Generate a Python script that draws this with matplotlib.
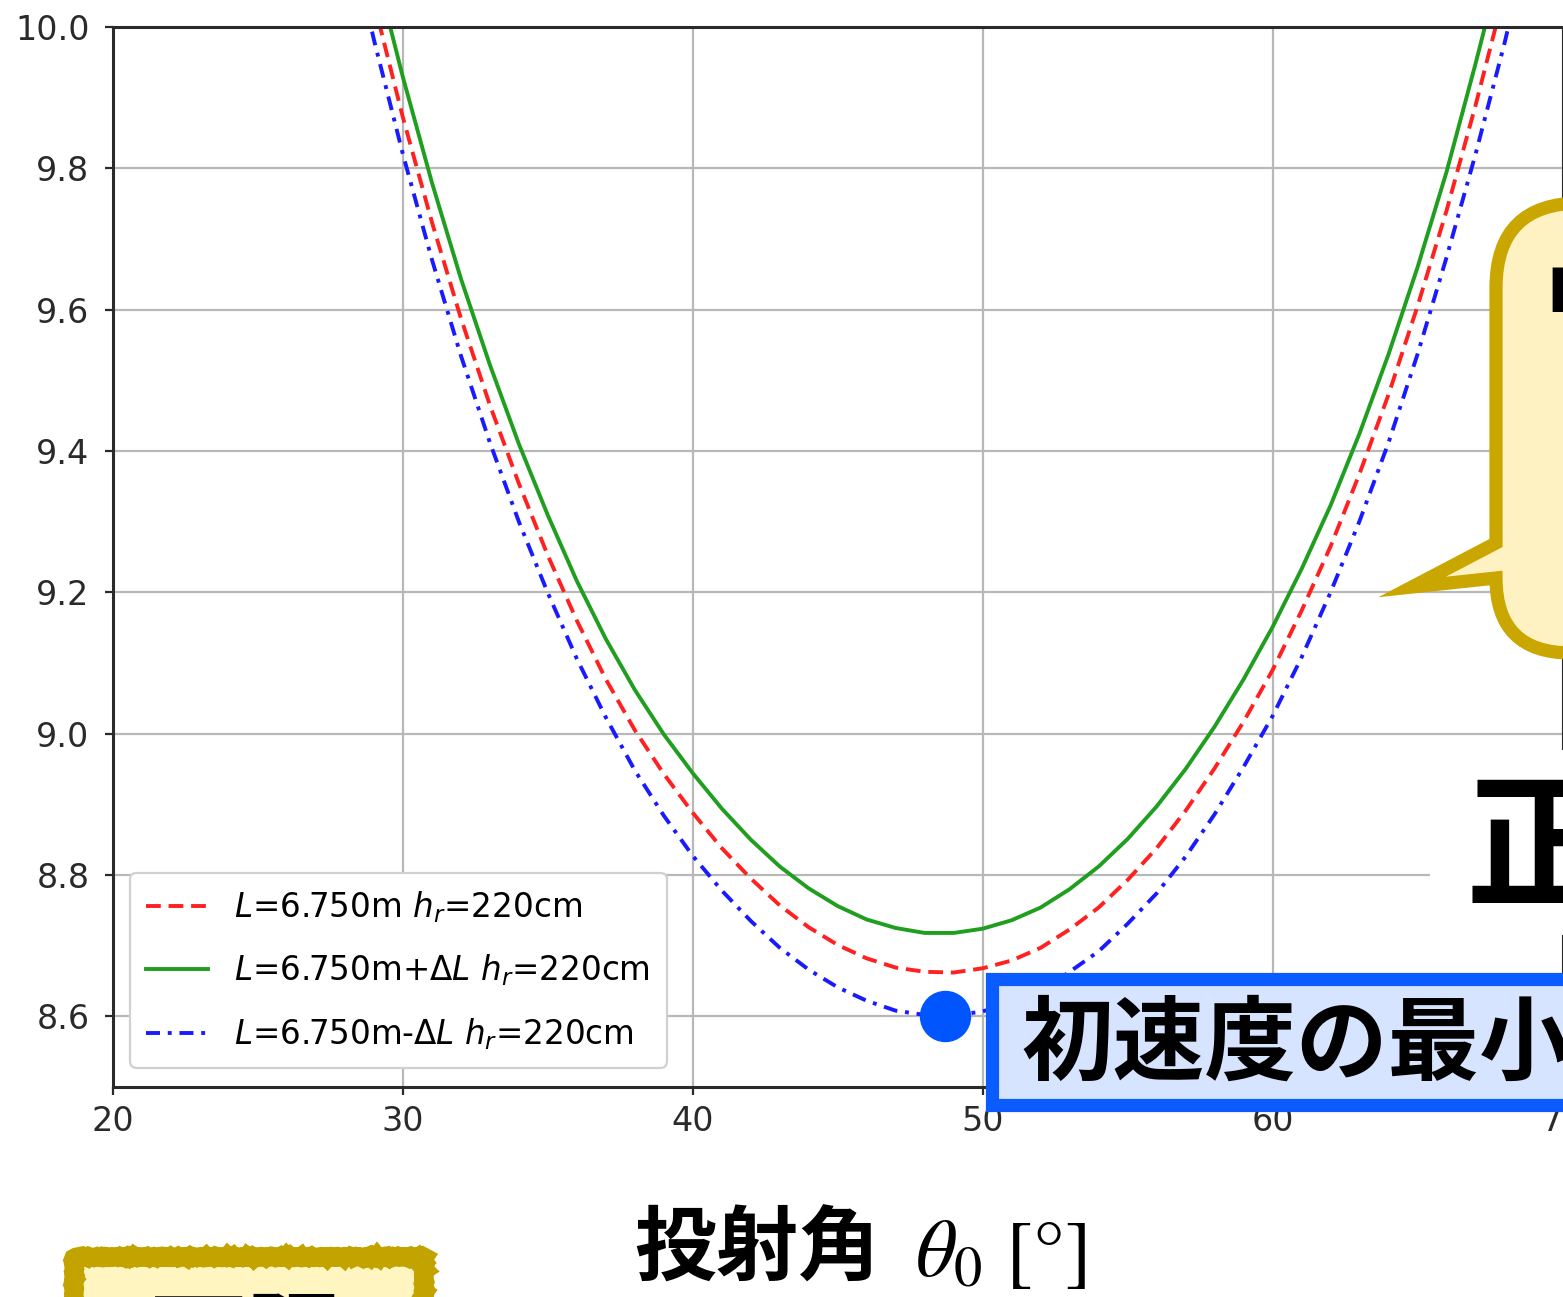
import matplotlib.pyplot as plt
from matplotlib.patches import Rectangle, PathPatch
from matplotlib.path import Path

W, H = 1563, 1297

# release angle [deg]
theta = list(range(28, 70))
# required initial speed [m/s]
v_L = [10.214, 10.035, 9.872, 9.724, 9.588, 9.465, 9.354, 9.252, 9.160, 9.077,
       9.005, 8.943, 8.888, 8.838, 8.795, 8.757, 8.726, 8.701, 8.682, 8.669,
       8.663, 8.662, 8.668, 8.679, 8.697, 8.723, 8.754, 8.793, 8.838, 8.891,
       8.951, 9.017, 9.090, 9.174, 9.265, 9.368, 9.480, 9.605, 9.740, 9.889,
       10.049, 10.230]
v_Lplus = [10.269, 10.091, 9.929, 9.780, 9.644, 9.522, 9.410, 9.309, 9.216, 9.134,
           9.062, 8.999, 8.944, 8.894, 8.850, 8.812, 8.781, 8.756, 8.737, 8.725,
           8.718, 8.718, 8.724, 8.736, 8.754, 8.780, 8.812, 8.851, 8.897, 8.950,
           9.010, 9.077, 9.151, 9.233, 9.323, 9.425, 9.537, 9.660, 9.795, 9.948,
           10.109, 10.291]
v_Lminus = [10.162, 9.982, 9.820, 9.671, 9.535, 9.412, 9.300, 9.199, 9.106, 9.023,
            8.948, 8.884, 8.827, 8.778, 8.735, 8.697, 8.666, 8.641, 8.622, 8.608,
            8.602, 8.601, 8.607, 8.619, 8.636, 8.663, 8.692, 8.731, 8.774, 8.826,
            8.886, 8.953, 9.025, 9.108, 9.200, 9.301, 9.412, 9.537, 9.674, 9.820,
            9.977, 10.151]
labels = [r'$L$=6.750m $h_r$=220cm',
          r'$L$=6.750m+$\Delta L$ $h_r$=220cm',
          r'$L$=6.750m-$\Delta L$ $h_r$=220cm']

# minimum of the L-dL curve
min_angle = 48.7
min_speed = 8.600

xticks = [20, 30, 40, 50, 60, 70]
yticks = [8.6, 8.8, 9.0, 9.2, 9.4, 9.6, 9.8, 10.0]

plt.rcParams['mathtext.fontset'] = 'dejavusans'
CJK = ['Noto Sans CJK JP', 'DejaVu Sans']


def fx(px):
    return px / W


def fy(py):
    return 1 - py / H


fig = plt.figure(figsize=(W / 100, H / 100), dpi=100)
ax = fig.add_axes([fx(113), fy(1087), (1562.5 - 113) / W, (1087 - 27) / H])

ax.plot(theta, v_L, color='#ff2020', lw=2.8, dashes=(3.8, 2.0), label=labels[0])
ax.plot(theta, v_Lplus, color='#1f9e1f', lw=2.8, label=labels[1])
ax.plot(theta, v_Lminus, color='#1a1aff', lw=2.8, dashes=(3.6, 2.0, 1.0, 2.0), label=labels[2])

ax.set_xlim(20, 70)
ax.set_ylim(8.5, 10.0)
ax.set_xticks(xticks)
ax.set_yticks(yticks)
ax.grid(True, color='#b8b8b8', lw=1.6)
for s in ax.spines.values():
    s.set_color('#2a2a2a')
    s.set_linewidth(2.2)
ax.tick_params(labelsize=24, colors='#2a2a2a', length=6, width=1.6)
ax.tick_params(axis='y', pad=11)
ax.tick_params(axis='x', pad=7)

leg = ax.legend(loc='lower left', bbox_to_anchor=(17 / 1449.5, 19 / 1060), borderaxespad=0,
                fontsize=23.5, handlelength=1.9, handletextpad=0.8, labelspacing=0.85,
                borderpad=0.5, framealpha=1.0, edgecolor='#d0d0d0')
leg.get_frame().set_linewidth(1.6)

# highlighted minimum
ax.plot([min_angle], [min_speed], 'o', color='#0055ff', ms=36, clip_on=False, zorder=10)

# label box for the minimum
fig.patches.append(Rectangle((fx(992), fy(1105)), (1700 - 992) / W, (1105 - 979) / H,
                             transform=fig.transFigure, facecolor='#d6e4ff',
                             edgecolor='#0a5cff', lw=9.5, zorder=20))
fig.text(fx(1021), fy(1073), '初速度の最小値', fontsize=66, fontweight='bold',
         family=CJK, color='black', zorder=21)

# speech bubble
x0, x1, y0, y1, r = 1496, 1700, 203, 653, 85
verts = [(x0, y0 + r), (x0, y0), (x0 + r, y0), (x1, y0), (x1, y1),
         (x0 + 75, y1), (x0, y1), (x0, 578), (1412, 587), (x0, 543),
         (x0, y0 + r)]
codes = [Path.MOVETO, Path.CURVE3, Path.CURVE3, Path.LINETO, Path.LINETO,
         Path.LINETO, Path.CURVE3, Path.CURVE3, Path.LINETO, Path.LINETO,
         Path.CLOSEPOLY]
bubble = Path([(fx(a), fy(b)) for a, b in verts], codes)
fig.patches.append(PathPatch(bubble, transform=fig.transFigure, facecolor='#fff2c2',
                             edgecolor='#c9a600', lw=9.5, joinstyle='miter', zorder=20))
fig.text(fx(1546), fy(312), 'L', fontsize=44, fontweight='bold', color='black', zorder=21)

# big caption on the right
fig.patches.append(Rectangle((fx(1430), fy(935)), (1600 - 1430) / W, (935 - 750) / H,
                             transform=fig.transFigure, facecolor='white',
                             edgecolor='none', zorder=18))
fig.text(fx(1466), fy(895), '正', fontsize=106, fontweight='bold', family=CJK,
         color='black', zorder=19)

# x axis caption
fig.text(fx(634), fy(1275), '投射角', fontsize=59, fontweight='bold', family=CJK,
         color='black')
fig.text(fx(915), fy(1276), r'$\theta_0$ [°]', fontsize=58, family='STIXGeneral',
         math_fontfamily='stix', color='black')

# yellow tag at the bottom left
tag = Rectangle((fx(74), fy(1340)), (424 - 74) / W, (1340 - 1257) / H,
                transform=fig.transFigure, facecolor='#fff5c0', edgecolor='#c2a300',
                lw=13, zorder=20)
tag.set_sketch_params(scale=1.0, length=6, randomness=2)
fig.patches.append(tag)
fig.text(fx(150), fy(1372), '下限', fontsize=70, fontweight='bold', family=CJK,
         color='black', zorder=21)

fig.savefig('out.png', dpi=100)
